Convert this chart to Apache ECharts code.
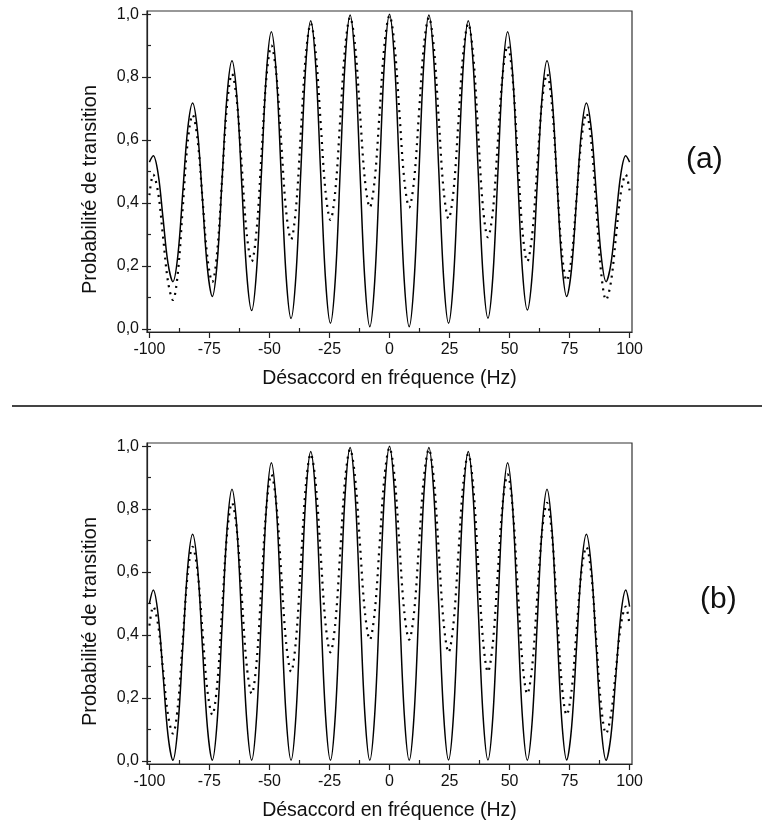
<!DOCTYPE html>
<html>
<head>
<meta charset="utf-8">
<script src="https://cdn.jsdelivr.net/npm/echarts@6/dist/echarts.min.js"></script>
<style>
html,body{margin:0;padding:0;background:#fff;}
#chart{width:762px;height:830px;}
</style>
</head>
<body>
<div id="chart"></div>
<script>
// Detuning (Hz)
const detuning = [-100, -98.4, -96.35, -94.3, -92.25, -90.2, -88.15, -86.1, -84.05, -82, -79.95, -77.9, -75.85, -73.8, -71.75, -69.7, -67.65, -65.6, -63.55, -61.5, -59.45, -57.4, -55.35, -53.3, -51.25, -49.2, -47.15, -45.1, -43.05, -41, -38.95, -36.9, -34.85, -32.8, -30.75, -28.7, -26.65, -24.6, -22.55, -20.5, -18.45, -16.4, -14.35, -12.3, -10.25, -8.2, -6.15, -4.1, -2.05, 0, 2.05, 4.1, 6.15, 8.2, 10.25, 12.3, 14.35, 16.4, 18.45, 20.5, 22.55, 24.6, 26.65, 28.7, 30.75, 32.8, 34.85, 36.9, 38.95, 41, 43.05, 45.1, 47.15, 49.2, 51.25, 53.3, 55.35, 57.4, 59.45, 61.5, 63.55, 65.6, 67.65, 69.7, 71.75, 73.8, 75.85, 77.9, 79.95, 82, 84.05, 86.1, 88.15, 90.2, 92.25, 94.3, 96.35, 98.4, 100];

// Panel (a)
const solidA = [0.53, 0.55, 0.492, 0.350, 0.208, 0.150, 0.233, 0.434, 0.635, 0.718, 0.628, 0.411, 0.193, 0.103, 0.212, 0.478, 0.743, 0.852, 0.736, 0.455, 0.174, 0.058, 0.187, 0.501, 0.815, 0.944, 0.811, 0.489, 0.166, 0.033, 0.171, 0.506, 0.841, 0.979, 0.839, 0.499, 0.158, 0.018, 0.161, 0.508, 0.854, 0.997, 0.852, 0.502, 0.152, 0.007, 0.152, 0.504, 0.855, 1.0, 0.855, 0.504, 0.152, 0.007, 0.152, 0.502, 0.852, 0.997, 0.854, 0.508, 0.161, 0.018, 0.158, 0.499, 0.839, 0.979, 0.841, 0.506, 0.171, 0.034, 0.166, 0.489, 0.811, 0.944, 0.815, 0.501, 0.187, 0.060, 0.174, 0.455, 0.736, 0.852, 0.743, 0.478, 0.212, 0.103, 0.193, 0.411, 0.628, 0.718, 0.635, 0.434, 0.233, 0.150, 0.208, 0.350, 0.492, 0.55, 0.53];
const dottedA = [0.425, 0.49, 0.432, 0.291, 0.150, 0.092, 0.178, 0.386, 0.594, 0.68, 0.602, 0.415, 0.227, 0.149, 0.246, 0.480, 0.713, 0.81, 0.723, 0.512, 0.301, 0.214, 0.314, 0.557, 0.800, 0.90, 0.810, 0.592, 0.374, 0.284, 0.384, 0.627, 0.870, 0.97, 0.879, 0.658, 0.437, 0.346, 0.440, 0.668, 0.896, 0.99, 0.902, 0.688, 0.474, 0.386, 0.475, 0.690, 0.906, 0.995, 0.906, 0.690, 0.475, 0.386, 0.474, 0.688, 0.902, 0.99, 0.896, 0.668, 0.440, 0.350, 0.437, 0.658, 0.879, 0.97, 0.870, 0.627, 0.384, 0.291, 0.374, 0.592, 0.810, 0.90, 0.800, 0.557, 0.314, 0.214, 0.301, 0.512, 0.723, 0.81, 0.713, 0.480, 0.246, 0.153, 0.227, 0.415, 0.602, 0.685, 0.594, 0.386, 0.178, 0.092, 0.150, 0.291, 0.432, 0.49, 0.44];

// Panel (b)
const solidB = [0.50, 0.543, 0.464, 0.273, 0.081, 0.002, 0.107, 0.361, 0.615, 0.72, 0.615, 0.361, 0.107, 0.002, 0.128, 0.433, 0.737, 0.863, 0.737, 0.433, 0.128, 0.002, 0.140, 0.475, 0.809, 0.947, 0.809, 0.475, 0.140, 0.002, 0.145, 0.493, 0.840, 0.983, 0.840, 0.493, 0.145, 0.002, 0.147, 0.499, 0.851, 0.996, 0.851, 0.499, 0.147, 0.002, 0.148, 0.501, 0.854, 1.0, 0.854, 0.501, 0.148, 0.002, 0.147, 0.499, 0.851, 0.996, 0.851, 0.499, 0.147, 0.003, 0.145, 0.493, 0.840, 0.983, 0.840, 0.493, 0.145, 0.003, 0.140, 0.475, 0.809, 0.947, 0.809, 0.475, 0.140, 0.002, 0.128, 0.433, 0.737, 0.863, 0.737, 0.433, 0.128, 0.003, 0.107, 0.361, 0.615, 0.72, 0.615, 0.361, 0.107, 0.002, 0.081, 0.273, 0.464, 0.543, 0.49];
const dottedB = [0.43, 0.49, 0.431, 0.289, 0.146, 0.087, 0.174, 0.384, 0.593, 0.68, 0.602, 0.413, 0.224, 0.146, 0.244, 0.483, 0.722, 0.82, 0.731, 0.517, 0.302, 0.213, 0.315, 0.562, 0.808, 0.91, 0.818, 0.597, 0.375, 0.283, 0.384, 0.629, 0.874, 0.975, 0.883, 0.660, 0.437, 0.345, 0.439, 0.668, 0.896, 0.99, 0.902, 0.688, 0.473, 0.385, 0.474, 0.690, 0.906, 0.995, 0.906, 0.690, 0.474, 0.385, 0.473, 0.688, 0.902, 0.99, 0.896, 0.668, 0.439, 0.345, 0.437, 0.660, 0.883, 0.975, 0.874, 0.629, 0.384, 0.283, 0.375, 0.597, 0.818, 0.91, 0.808, 0.562, 0.315, 0.213, 0.302, 0.517, 0.731, 0.82, 0.722, 0.483, 0.244, 0.146, 0.224, 0.413, 0.602, 0.68, 0.593, 0.384, 0.174, 0.087, 0.146, 0.289, 0.431, 0.49, 0.43];

// Ticks
const xMajorTicks = [-100, -75, -50, -25, 0, 25, 50, 75, 100];
const xMinorTicks = [-87.5, -62.5, -37.5, -12.5, 12.5, 37.5, 62.5, 87.5];
const yMajorTicks = [0, 0.2, 0.4, 0.6, 0.8, 1.0];
const yAllTicks = [0, 0.1, 0.2, 0.3, 0.4, 0.5, 0.6, 0.7, 0.8, 0.9, 1.0];

const xTitle = 'Désaccord en fréquence (Hz)';
const yTitle = 'Probabilité de transition';
const panelLabels = ['(a)', '(b)'];

const FONT = '"Liberation Sans", Arial, sans-serif';
const AX = '#222';

const chart = echarts.init(document.getElementById('chart'), null, {renderer: 'canvas'});

const grids = [
  {left: 147, top: 11, width: 485, height: 321},
  {left: 147, top: 443, width: 485, height: 321}
];

const xAxes = [], yAxes = [], series = [];
grids.forEach((g, i) => {
  xAxes.push({
    gridIndex: i, type: 'value', min: -101, max: 101, position: 'bottom',
    axisLine: {show: true, onZero: false, lineStyle: {color: AX, width: 1.2}},
    axisTick: {show: true, customValues: xMajorTicks, length: 6, inside: false, lineStyle: {color: AX, width: 1.2}},
    axisLabel: {show: true, customValues: xMajorTicks, margin: 10, fontSize: 16, color: '#111', fontFamily: FONT,
      formatter: v => String(v)},
    splitLine: {show: false},
    name: xTitle, nameLocation: 'middle', nameGap: 37,
    nameTextStyle: {fontSize: 19.5, color: '#111', fontFamily: FONT}
  });
  xAxes.push({
    gridIndex: i, type: 'value', min: -101, max: 101, position: 'bottom',
    axisLine: {show: false, onZero: false},
    axisTick: {show: true, customValues: xMinorTicks, length: 4, inside: true, lineStyle: {color: AX, width: 1.2}},
    axisLabel: {show: false},
    splitLine: {show: false}
  });
  yAxes.push({
    gridIndex: i, type: 'value', min: -0.01, max: 1.01, position: 'left',
    axisLine: {show: true, onZero: false, lineStyle: {color: AX, width: 1.2}},
    axisTick: {show: true, customValues: yMajorTicks, length: 5, inside: false, lineStyle: {color: AX, width: 1.2}},
    axisLabel: {show: true, customValues: yMajorTicks, margin: 8, fontSize: 16, color: '#111', fontFamily: FONT,
      formatter: v => v.toFixed(1).replace('.', ',')},
    splitLine: {show: false},
    name: yTitle, nameLocation: 'middle', nameGap: 47,
    nameTextStyle: {fontSize: 20, color: '#111', fontFamily: FONT, padding: [0, 36, 0, 0]}
  });
  yAxes.push({
    gridIndex: i, type: 'value', min: -0.01, max: 1.01, position: 'left',
    axisLine: {show: false, onZero: false},
    axisTick: {show: true, customValues: yAllTicks, length: 4, inside: true, lineStyle: {color: AX, width: 1.2}},
    axisLabel: {show: false},
    splitLine: {show: false}
  });
});

const panels = [[solidA, dottedA], [solidB, dottedB]];
panels.forEach((p, i) => {
  series.push({
    type: 'line', xAxisIndex: i * 2, yAxisIndex: i * 2, showSymbol: false, smooth: 0.35,
    data: detuning.map((x, k) => [x, p[1][k]]),
    lineStyle: {color: '#000', width: 2.2, type: [2, 5], cap: 'butt'},
    silent: true, animation: false
  });
  series.push({
    type: 'line', xAxisIndex: i * 2, yAxisIndex: i * 2, showSymbol: false, smooth: 0.35,
    data: detuning.map((x, k) => [x, p[0][k]]),
    lineStyle: {color: '#000', width: 1.5},
    silent: true, animation: false
  });
});

chart.setOption({
  animation: false,
  backgroundColor: '#fff',
  grid: grids.map(g => Object.assign({show: true, borderColor: '#333', borderWidth: 1.2, backgroundColor: 'transparent'}, g)),
  xAxis: xAxes,
  yAxis: yAxes,
  series: series,
  graphic: [
    {type: 'line', shape: {x1: 12, y1: 406, x2: 762, y2: 406}, style: {stroke: '#444', lineWidth: 2}},
    {type: 'text', left: 686, top: 145, style: {text: panelLabels[0], font: '30px ' + FONT, fill: '#111'}},
    {type: 'text', left: 700, top: 585, style: {text: panelLabels[1], font: '30px ' + FONT, fill: '#111'}}
  ]
});
</script>
</body>
</html>
